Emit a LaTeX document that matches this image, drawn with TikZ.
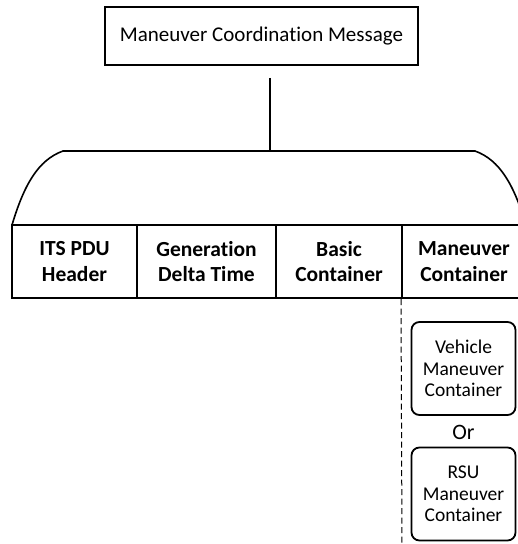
\documentclass[tikz,border=0pt]{standalone}
\usepackage{fontspec}
\setmainfont{Carlito}[Ligatures=NoCommon]
\begin{document}
\begin{tikzpicture}[x=1pt,y=-1pt,
  msgbox/.style={draw, line width=1.8pt, minimum width=313, minimum height=58, inner sep=0pt,
    font=\fontsize{21}{25}\selectfont},
  cell/.style={draw, line width=2pt, minimum width=#1, minimum height=73, inner sep=0pt,
    align=center, font=\bfseries\fontsize{21.5}{25.5}\selectfont},
  sub/.style={draw, line width=1.8pt, rounded corners=8pt, minimum width=104, minimum height=93,
    inner sep=0pt, align=center, font=\fontsize{19.5}{21.5}\selectfont},
  link/.style={line width=2.8pt},
  roof/.style={line width=1.6pt}]
\useasboundingbox (0,0) rectangle (518,544);
\clip (0,0) rectangle (518,544);

% message box and its link down to the roof
\node[msgbox] (msg) at (261.5,36) {Maneuver Coordination Message};
\coordinate (rooftop) at (270,151);
\draw[link] ([yshift=-12pt]msg.south -| rooftop) -- (rooftop);

% roof over the container row
\draw[roof] (12,225) .. controls (24,185) and (38,160) .. (63,151)
  -- (475,151) .. controls (500,160) and (514,185) .. (526,225);

% container row
\node[cell=125] (its) at (74.5,261.5) {ITS PDU\\Header};
\node[cell=139] (gen) at (206.5,261.5) {Generation\\Delta Time};
\node[cell=126] (basic) at (339,261.5) {Basic\\Container};
\node[cell=124] (man) at (464,261.5) {Maneuver\\Container};

% dashed guide under the maneuver container
\coordinate (guideend) at (402,546);
\draw[line width=1pt, dash pattern=on 6pt off 3.5pt] (man.south west) -- (guideend);

% maneuver container variants
\node[sub] (veh) at (463.5,368.5) {Vehicle\\Maneuver\\Container};
\node[font=\fontsize{22}{24}\selectfont] (or) at (463.5,432) {Or};
\node[sub] (rsu) at (463.5,494) {RSU\\Maneuver\\Container};
\end{tikzpicture}
\end{document}
